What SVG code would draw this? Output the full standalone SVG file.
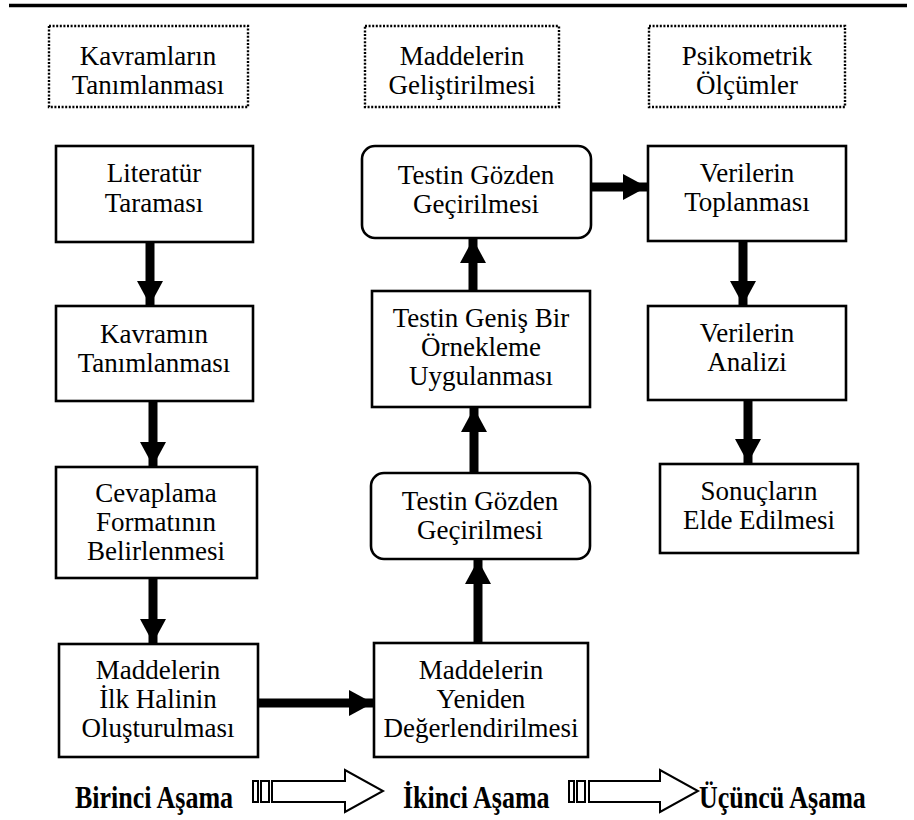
<svg xmlns="http://www.w3.org/2000/svg" width="914" height="820" viewBox="0 0 914 820">
  <style>
    .box { fill: #fff; stroke: #000; stroke-width: 2.6; }
    .phase { fill: #fff; stroke: #000; stroke-width: 2.4; stroke-dasharray: 2 1.6; }
    .t { font-family: "Liberation Serif", "Times New Roman", serif; font-size: 27px; fill: #000; text-anchor: middle; }
    .stage { font-family: "Liberation Serif", "Times New Roman", serif; font-size: 26px; font-weight: bold; fill: #000; }
    .conn { stroke: #000; stroke-width: 9; fill: none; marker-end: url(#head); }
    .hollow { fill: #fff; stroke: #000; stroke-width: 2; }
  </style>
  <defs>
    <marker id="head" markerUnits="userSpaceOnUse" viewBox="0 0 24 26" refX="24" refY="13" markerWidth="24" markerHeight="26" orient="auto">
      <path d="M0,0 L24,13 L0,26 Z" fill="#000"/>
    </marker>
  </defs>

  <rect width="914" height="820" fill="#fff"/>

  <!-- top rule -->
  <line x1="9" y1="5.5" x2="907" y2="5.5" stroke="#000" stroke-width="3.5"/>

  <!-- phase headers (dotted frames) -->
  <g id="header-kavram">
    <rect class="phase" x="49" y="26" width="199" height="81"/>
    <text class="t" x="148" y="65">Kavramların</text>
    <text class="t" x="148" y="94">Tanımlanması</text>
  </g>
  <g id="header-madde">
    <rect class="phase" x="365" y="26" width="194" height="81"/>
    <text class="t" x="462" y="65">Maddelerin</text>
    <text class="t" x="462" y="94">Geliştirilmesi</text>
  </g>
  <g id="header-psiko">
    <rect class="phase" x="649" y="26" width="196" height="81"/>
    <text class="t" x="747" y="65">Psikometrik</text>
    <text class="t" x="747" y="94">Ölçümler</text>
  </g>

  <!-- column 1 -->
  <g id="literatur">
    <rect class="box" x="56" y="146" width="197" height="96"/>
    <text class="t" x="154" y="182">Literatür</text>
    <text class="t" x="154" y="212">Taraması</text>
  </g>
  <g id="kavramin">
    <rect class="box" x="56" y="306" width="197" height="95"/>
    <text class="t" x="154" y="343">Kavramın</text>
    <text class="t" x="154" y="372">Tanımlanması</text>
  </g>
  <g id="cevaplama">
    <rect class="box" x="56" y="467" width="201" height="111"/>
    <text class="t" x="156" y="502">Cevaplama</text>
    <text class="t" x="156" y="531">Formatının</text>
    <text class="t" x="156" y="560">Belirlenmesi</text>
  </g>
  <g id="ilk-hal">
    <rect class="box" x="59" y="644" width="199" height="113"/>
    <text class="t" x="158" y="679">Maddelerin</text>
    <text class="t" x="158" y="708">İlk Halinin</text>
    <text class="t" x="158" y="737">Oluşturulması</text>
  </g>

  <!-- column 2 -->
  <g id="gozden-1">
    <rect class="box" x="362" y="146" width="229" height="92" rx="13"/>
    <text class="t" x="476" y="184">Testin Gözden</text>
    <text class="t" x="476" y="213">Geçirilmesi</text>
  </g>
  <g id="genis-orneklem">
    <rect class="box" x="372" y="291" width="218" height="116"/>
    <text class="t" x="481" y="327">Testin Geniş Bir</text>
    <text class="t" x="481" y="356">Örnekleme</text>
    <text class="t" x="481" y="385">Uygulanması</text>
  </g>
  <g id="gozden-2">
    <rect class="box" x="371" y="473" width="219" height="86" rx="13"/>
    <text class="t" x="480" y="510">Testin Gözden</text>
    <text class="t" x="480" y="539">Geçirilmesi</text>
  </g>
  <g id="yeniden">
    <rect class="box" x="374" y="643" width="214" height="114"/>
    <text class="t" x="481" y="679">Maddelerin</text>
    <text class="t" x="481" y="708">Yeniden</text>
    <text class="t" x="481" y="737">Değerlendirilmesi</text>
  </g>

  <!-- column 3 -->
  <g id="toplanma">
    <rect class="box" x="648" y="146" width="198" height="95"/>
    <text class="t" x="747" y="182">Verilerin</text>
    <text class="t" x="747" y="211">Toplanması</text>
  </g>
  <g id="analiz">
    <rect class="box" x="648" y="306" width="198" height="94"/>
    <text class="t" x="747" y="342">Verilerin</text>
    <text class="t" x="747" y="371">Analizi</text>
  </g>
  <g id="sonuc">
    <rect class="box" x="660" y="464" width="198" height="89"/>
    <text class="t" x="759" y="500">Sonuçların</text>
    <text class="t" x="759" y="529">Elde Edilmesi</text>
  </g>

  <!-- connectors -->
  <g id="connectors">
    <line class="conn" x1="150" y1="242" x2="150" y2="305"/>
    <line class="conn" x1="153" y1="401" x2="153" y2="466"/>
    <line class="conn" x1="153" y1="578" x2="153" y2="643"/>
    <line class="conn" x1="258" y1="703" x2="373" y2="703"/>
    <line class="conn" x1="478" y1="643" x2="478" y2="560"/>
    <line class="conn" x1="474" y1="473" x2="474" y2="408"/>
    <line class="conn" x1="473" y1="291" x2="473" y2="239"/>
    <line class="conn" x1="591" y1="187" x2="647" y2="187"/>
    <line class="conn" x1="743" y1="241" x2="743" y2="305"/>
    <line class="conn" x1="748" y1="400" x2="748" y2="463"/>
  </g>

  <!-- stage band: labels with hollow block arrows between them -->
  <g id="stages">
    <text class="stage" transform="translate(75,808) scale(1,1.2)">Birinci Aşama</text>
    <rect class="hollow" x="253" y="781" width="5" height="21"/>
    <rect class="hollow" x="261" y="781" width="8" height="21"/>
    <path class="hollow" d="M272,781 H345 V770 L383,791 L345,812 V802 H272 Z"/>
    <text class="stage" transform="translate(403,808) scale(1,1.2)">İkinci Aşama</text>
    <rect class="hollow" x="569" y="781" width="5" height="21"/>
    <rect class="hollow" x="577" y="781" width="8" height="21"/>
    <path class="hollow" d="M589,781 H660 V770 L698,791 L660,812 V802 H589 Z"/>
    <text class="stage" transform="translate(699,808) scale(1,1.2)">Üçüncü Aşama</text>
  </g>
</svg>
